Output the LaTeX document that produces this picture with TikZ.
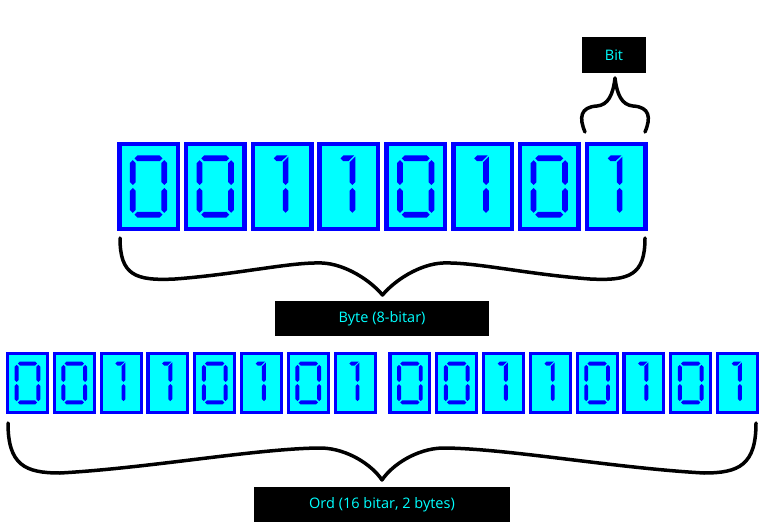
\documentclass[tikz,border=0pt]{standalone}
\usepackage{fontspec}
\setmainfont{Open Sans}
\definecolor{boxblue}{RGB}{0,0,255}
\definecolor{boxcyan}{RGB}{0,255,255}
\newcommand\mySegH[2]{\fill[boxblue,shift={(#1,#2)}] (-14,0) -- (-11.15,-2.85) -- (11.15,-2.85) -- (14,0) -- (11.15,2.85) -- (-11.15,2.85) -- cycle;}
\newcommand\mySegV[2]{\fill[boxblue,shift={(#1,#2)}] (0,-12.4) -- (2.85,-9.55) -- (2.85,9.55) -- (0,12.4) -- (-2.85,9.55) -- (-2.85,-9.55) -- cycle;}
\tikzset{
  x=1pt, y=-1pt,
  topbox/.style={draw=boxblue, fill=boxcyan, line width=4.5pt, minimum width=58.5pt, minimum height=84.5pt, inner sep=0pt, outer sep=0pt},
  botbox/.style={draw=boxblue, fill=boxcyan, line width=3.1pt, minimum width=39.9pt, minimum height=58.9pt, inner sep=0pt, outer sep=0pt},
  brace/.style={draw=black, line width=3.5pt, line join=round, line cap=round},
  lab/.style={fill=black, text=boxcyan, inner sep=0pt, minimum height=35pt, font=\fontsize{14.5}{16}\selectfont},
  pics/dzero/.style={code={%
    \mySegH{0}{-28.15}\mySegH{0}{28.15}%
    \mySegV{-15.75}{-13.9}\mySegV{15.75}{-13.9}%
    \mySegV{-15.75}{13.9}\mySegV{15.75}{13.9}}},
  pics/done/.style={code={%
    \fill[boxblue] (-5.5,-31) -- (5.2,-31) -- (-0.6,-25.3) -- (-5.5,-25.3) -- (-8.35,-28.15) -- cycle;
    \fill[boxblue] (0.65,-24.2) -- (6.35,-29.9) -- (6.35,-4.35) -- (3.5,-1.5) -- (0.65,-4.35) -- cycle;
    \mySegV{3.5}{13.9}}},
}
\begin{document}
\begin{tikzpicture}
\useasboundingbox (0,0) rectangle (766,524);
% top byte
\foreach \b [count=\i from 0] in {0,0,1,1,0,1,0,1} {
  \node[topbox] (t\i) at ({148.5+\i*66.8},186.5) {};
  \ifnum\b=0 \pic at (t\i.center) {dzero}; \else \pic at (t\i.center) {done}; \fi
}
% bottom word
\foreach \b [count=\i from 0] in {0,0,1,1,0,1,0,1} {
  \node[botbox] (a\i) at ({27.5+\i*46.8},383) {};
  \ifnum\b=0 \pic[scale=0.69] at (a\i.center) {dzero}; \else \pic[scale=0.69] at (a\i.center) {done}; \fi
  \node[botbox] (b\i) at ({409.9+\i*46.8},383) {};
  \ifnum\b=0 \pic[scale=0.69] at (b\i.center) {dzero}; \else \pic[scale=0.69] at (b\i.center) {done}; \fi
}
% labels
\node[lab, minimum width=64pt, minimum height=36pt] (bitlab) at (614,55) {Bit};
\node[lab, minimum width=214pt] (bytelab) at (382,318.5) {Byte (8-bitar)};
\node[lab, minimum width=256pt] (ordlab) at (382,504.5) {Ord (16 bitar, 2 bytes)};
% braces
\draw[brace] (585,132) .. controls (579,118) and (580,107) .. (597,106)
  .. controls (608,105) and (613,95) .. (615,78)
  .. controls (617,95) and (622,105) .. (633,106)
  .. controls (650,107) and (651,118) .. (645,132);
\draw[brace] (120,238) .. controls (120,275) and (135,281) .. (175,279)
  .. controls (240,274) and (290,262) .. (322,263)
  .. controls (345,264) and (370,280) .. (382.5,295)
  .. controls (395,280) and (420,264) .. (443,263)
  .. controls (475,262) and (525,274) .. (590,279)
  .. controls (630,281) and (645,275) .. (645,238);
\draw[brace] (8,423) .. controls (8,465) and (25,473) .. (60,473)
  .. controls (150,468) and (260,448) .. (322,448)
  .. controls (348,449) and (372,465) .. (382,480)
  .. controls (392,465) and (416,449) .. (442,448)
  .. controls (504,448) and (614,468) .. (704,473)
  .. controls (739,473) and (756,465) .. (756,423);
\end{tikzpicture}
\end{document}
